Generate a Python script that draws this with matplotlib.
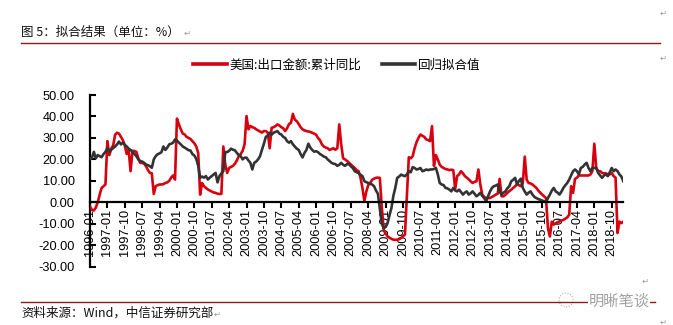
import matplotlib
matplotlib.use('Agg')
import matplotlib.pyplot as plt
from matplotlib.lines import Line2D
from matplotlib.patches import Ellipse
from matplotlib.font_manager import FontProperties

CJK = ['Noto Sans CJK SC', 'DejaVu Sans']
NUM = ['Liberation Sans', 'DejaVu Sans']

title_text = '图 5：拟合结果（单位：%）'
source_text = '资料来源：Wind，中信证券研究部'
watermark_text = '明晰笔谈'
series_names = ['美国:出口金额:累计同比', '回归拟合值']

tick_labels = ['1996-01', '1997-01', '1997-10', '1998-07', '1999-04', '2000-01', '2000-10',
               '2001-07', '2002-04', '2003-01', '2003-10', '2004-07', '2005-04', '2006-01',
               '2006-10', '2007-07', '2008-04', '2009-01', '2009-10', '2010-07', '2011-04',
               '2012-01', '2012-10', '2013-07', '2014-04', '2015-01', '2015-10', '2016-07',
               '2017-04', '2018-01', '2018-10']
y_ticks = [-30, -20, -10, 0, 10, 20, 30, 40, 50]

export_yoy = [
    -2.0, -3.5, -3.8, -2.5, 0.0, 3.5, 6.7, 7.5, 8.3,
    28.5, 22.0, 25.0, 26.5, 31.5, 32.4, 32.0, 30.5, 29.0, 26.5, 22.5, 24.5,
    14.5, 24.0, 23.9, 23.5, 20.5, 18.4, 18.4, 18.0, 16.8, 15.0, 13.7, 13.5,
    3.9, 7.5, 8.0, 8.3, 8.3, 8.5, 9.0, 9.3, 10.0, 11.5, 12.5, 10.6,
    39.0, 36.3, 34.0, 32.0, 31.6, 30.5, 30.0, 29.5, 28.5, 27.5, 26.0, 23.0,
    3.6, 9.0, 7.5, 6.7, 6.0, 5.5, 5.0, 4.6, 4.4, 4.0, 3.9, 3.9,
    26.0, 17.6, 13.7, 16.0, 16.5, 17.0, 18.0, 19.5, 21.5, 22.5, 24.0, 27.0,
    40.2, 34.0, 35.6, 35.0, 34.7, 34.0, 33.5, 33.0, 32.5, 33.2, 33.2, 32.5,
    25.2, 34.7, 35.0, 35.5, 36.3, 35.8, 35.0, 34.5, 33.2, 34.5, 36.5, 37.0,
    41.2, 38.5, 37.8, 36.5, 35.0, 34.0, 33.5, 33.2, 33.0, 32.8, 32.4, 32.0,
    31.5, 30.0, 29.0, 27.0, 26.0, 25.5, 25.2, 24.4, 24.8, 25.2, 24.5, 25.2,
    36.3, 27.0, 20.5, 20.0, 19.3, 18.5, 17.6, 16.8, 16.0, 15.0, 14.5, 11.4,
    6.7, 0.5, 5.0, 8.0, 9.0, 10.5, 11.0, 11.4, 11.5, 11.4, -2.0, -13.0,
    -14.5, -15.9, -16.5, -17.0, -17.4, -17.5, -17.4, -17.2, -16.6, -15.8, -15.0, 3.0,
    21.0, 20.5, 21.5, 25.2, 28.0, 30.0, 31.6, 31.0, 30.5, 29.3, 29.0, 28.5,
    35.5, 17.0, 22.0, 20.0, 17.5, 16.5, 16.0, 15.5, 15.3, 15.0, 15.2, 15.0,
    6.2, 12.2, 13.0, 14.5, 13.5, 12.2, 11.5, 10.7, 9.8, 9.0, 9.5, 9.8,
    15.3, 8.3, 3.6, 2.5, 2.0, 2.0, 2.0, 2.5, 3.0, 3.6, 4.0, 10.9,
    2.8, 2.8, 3.5, 4.4, 5.2, 5.9, 6.7, 7.5, 8.3, 8.0, 7.5, 9.0,
    21.3, 10.5, 9.0, 8.8, 8.3, 7.5, 6.7, 5.5, 4.5, 3.6, 2.8, 2.0,
    -12.0, -15.9, -9.0, -10.4, -9.7, -9.3, -8.9, -8.5, -8.2, -7.6, -7.0, -5.8,
    7.5, 4.4, 10.9, 11.5, 12.5, 12.5, 12.5, 12.5, 12.5, 12.5, 13.0, 14.5,
    27.3, 16.0, 14.5, 14.5, 13.7, 13.5, 13.5, 13.0, 13.0, 13.7, 12.2, 11.5,
    -14.3, -9.0, -9.7, -9.0,
]

fitted = [
    20.0, 20.8, 23.5, 20.5, 22.0, 21.5, 21.0, 22.5, 23.5,
    25.3, 23.7, 24.5, 25.3, 26.0, 27.0, 28.3, 27.0, 27.8, 26.8, 26.0, 25.0,
    24.4, 23.5, 22.5, 21.5, 20.0, 19.2, 19.0, 18.4, 17.6, 17.3, 16.8, 16.1,
    20.0, 21.5, 22.4, 22.8, 23.4, 26.0, 24.4, 25.5, 27.0, 27.3, 27.8, 29.3,
    28.8, 27.8, 27.0, 26.0, 25.5, 24.9, 24.3, 24.1, 22.5, 21.8, 20.2, 17.0,
    11.4, 12.0, 11.5, 12.2, 10.6, 11.5, 12.2, 13.0, 13.7, 9.3, 12.2, 13.5,
    14.5, 23.4, 23.4, 24.0, 25.0, 24.5, 24.2, 23.0, 22.0, 21.5, 20.0, 20.8,
    20.8, 19.5, 18.4, 15.3, 18.4, 19.0, 20.0, 21.5, 24.5, 27.3, 30.5, 31.0,
    32.4, 31.5, 32.4, 32.8, 33.2, 32.0, 31.6, 30.5, 30.0, 28.5, 27.8, 28.5,
    27.0, 26.0, 25.0, 24.4, 22.5, 20.9, 23.0, 24.4, 27.3, 25.5, 24.4, 23.6,
    23.8, 23.4, 22.5, 22.0, 21.3, 21.0, 20.0, 19.2, 18.4, 18.0, 17.8, 17.0,
    17.5, 18.4, 17.5, 17.0, 17.8, 17.8, 16.8, 16.0, 14.5, 14.0, 13.7, 12.8,
    12.2, 9.8, 9.4, 9.0, 8.6, 8.3, 7.5, 5.5, 4.0, -3.0, -10.0, -12.0,
    -11.5, -9.7, -6.0, -2.7, 3.0, 6.7, 11.4, 12.0, 12.9, 12.5, 12.2, 13.0,
    14.5, 14.0, 16.4, 16.0, 15.3, 15.5, 16.0, 14.5, 14.8, 15.3, 15.0, 15.3,
    15.3, 15.5, 16.1, 13.0, 9.0, 8.3, 8.0, 6.7, 6.5, 5.9, 5.1, 6.7,
    5.5, 5.1, 5.9, 4.8, 3.6, 4.5, 5.1, 3.6, 4.2, 5.1, 4.0, 2.8,
    3.5, 4.4, 3.0, 2.0, 0.5, 2.8, 5.0, 6.7, 7.5, 7.8, 8.3, 5.0,
    3.6, 4.5, 5.1, 6.5, 7.5, 9.8, 10.5, 11.4, 8.3, 10.0, 11.0, 6.7,
    5.0, 3.6, 4.5, 5.1, 3.6, 2.5, 2.0, 1.5, 1.2, 0.8, 0.5, 0.0,
    2.0, 3.6, 5.5, 6.7, 5.1, 4.5, 3.6, 5.0, 6.7, 8.0, 9.0, 10.6,
    12.5, 14.5, 15.3, 14.5, 13.0, 16.0, 16.5, 17.6, 18.4, 16.0, 14.5, 16.0,
    16.0, 16.0, 13.7, 12.5, 11.4, 12.5, 13.0, 12.2, 14.0, 16.0, 14.5, 15.3,
    14.5, 13.0, 12.0, 9.8,
]

W, H = 673, 325
fig = plt.figure(figsize=(W / 100, H / 100), dpi=100)
fig.patch.set_facecolor('white')

ax = fig.add_axes([90 / W, (H - 266.7) / H, (623.3 - 90) / W, (266.7 - 95) / H])
ax.set_facecolor('none')

# spine placement first (it resets tick objects)
for s in ('top', 'right'):
    ax.spines[s].set_visible(False)
ax.spines['bottom'].set_position(('data', 0))
ax.spines['left'].set_linewidth(1.6)
ax.spines['bottom'].set_linewidth(1.6)
ax.spines['bottom'].set_zorder(5)

RED = '#D7000F'
DARK = '#333333'
n = len(export_yoy)
l1, = ax.plot(list(range(n)), export_yoy, color=RED, lw=1.9, solid_joinstyle='round', zorder=3)
l2, = ax.plot(list(range(len(fitted))), fitted, color=DARK, lw=1.9,
              solid_joinstyle='round', zorder=4)

ax.set_xlim(0, n - 1)
ax.set_ylim(-30, 50)
ax.set_yticks(y_ticks)
ax.set_yticklabels([f'{v:.2f}' for v in y_ticks])
step = 9
ax.set_xticks([0] + [step * k for k in range(1, len(tick_labels))])
ax.set_xticklabels(tick_labels)
ax.tick_params(axis='y', direction='in', length=4, width=1.5, pad=11, colors='black',
               labelsize=9.2)
ax.tick_params(axis='x', direction='out', length=4, width=1.5, pad=1, colors='black',
               labelsize=9.2, labelrotation=90)
for lab in ax.get_xticklabels() + ax.get_yticklabels():
    lab.set_fontfamily(NUM)

leg = fig.legend([l1, l2], series_names, loc='center', bbox_to_anchor=(0.5005, 1 - 65 / H),
                 ncol=2, frameon=False, prop=FontProperties(family=CJK, size=9),
                 handlelength=2.65, handletextpad=0.2, columnspacing=1.7)
for h in leg.get_lines():
    h.set_linewidth(2.6)

# title and source block
fig.text(21 / W, 1 - 32 / H, title_text, family=CJK, fontsize=9, ha='left', va='center',
         color='#111111')
fig.add_artist(Line2D([21 / W, 660 / W], [1 - 43 / H] * 2, color='#8B1A1A', lw=1.0))
fig.add_artist(Line2D([21 / W, 655 / W], [1 - 302 / H] * 2, color='#8B1A1A', lw=1.0))
fig.text(21 / W, 1 - 313 / H, source_text, family=CJK, fontsize=9, ha='left', va='center',
         color='#111111')

# paragraph marks
pm = dict(family=['DejaVu Sans'], fontsize=6, color='#9A9A9A', ha='center', va='center')
fig.text(187 / W, 1 - 33 / H, '\u21b5', **pm)
fig.text(663 / W, 1 - 13 / H, '\u21b5', **pm)
fig.text(663 / W, 1 - 58 / H, '\u21b5', **pm)
fig.text(217 / W, 1 - 314 / H, '\u21b5', **pm)
fig.text(663 / W, 1 - 322 / H, '\u21b5', **pm)
fig.text(645 / W, 1 - 281 / H, '\u21b5', **pm)

# watermark
fig.add_artist(Ellipse((566 / W, 1 - 300 / H), 14 / W, 14 / H, fill=False,
                       edgecolor='#B0B0B0', lw=0.8, ls=(0, (1, 1.5))))
fig.text(619 / W, 1 - 301 / H, watermark_text, family=CJK, fontsize=11, color='#A0A0A0',
         ha='center', va='center',
         bbox=dict(facecolor='white', edgecolor='none', pad=0.5))

fig.savefig('out.png', dpi=100, facecolor='white')
